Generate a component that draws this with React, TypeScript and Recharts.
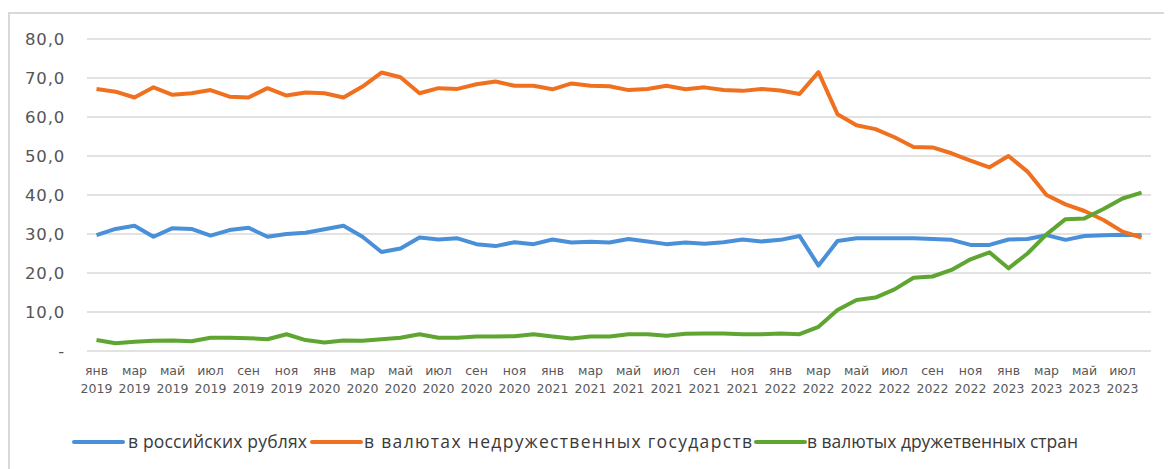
import React from "react";
import { LineChart, Line, XAxis, YAxis, CartesianGrid, Legend } from "recharts";

const monthNames = ["янв", "фев", "мар", "апр", "май", "июн", "июл", "авг", "сен", "окт", "ноя", "дек"];
const years = [2019, 2020, 2021, 2022, 2023];
const monthsIn2023 = 8;

const categories: string[] = [];
years.forEach((y) => {
  const n = y === 2023 ? monthsIn2023 : 12;
  for (let m = 0; m < n; m++) categories.push(`${monthNames[m]} ${y}`);
});

const rubles = [
  29.7, 31.3, 32.1, 29.3, 31.5, 31.3, 29.6, 31.0, 31.6, 29.3, 30.0, 30.3, 31.2, 32.1, 29.3, 25.4,
  26.3, 29.1, 28.6, 28.9, 27.4, 26.9, 27.9, 27.4, 28.6, 27.8, 28.0, 27.8, 28.7, 28.1, 27.4, 27.8, 27.5, 27.9, 28.6, 28.1,
  28.5, 29.5, 21.9, 28.2, 28.9, 28.9, 28.9, 28.9, 28.7, 28.5, 27.2, 27.2, 28.6, 28.7, 29.7, 28.5, 29.5, 29.7, 29.8, 29.7,
];
const unfriendly = [
  67.2, 66.5, 65.0, 67.6, 65.7, 66.1, 66.9, 65.2, 65.0, 67.4, 65.5, 66.3, 66.1, 65.0, 67.8, 71.4,
  70.2, 66.1, 67.4, 67.2, 68.4, 69.1, 68.0, 68.0, 67.1, 68.6, 68.0, 67.9, 66.9, 67.2, 68.0, 67.1, 67.6, 66.9, 66.7, 67.2,
  66.8, 65.9, 71.5, 60.7, 57.9, 56.9, 54.8, 52.3, 52.2, 50.7, 48.8, 47.1, 50.0, 46.0, 40.0, 37.6, 35.9, 33.6, 30.6, 29.1,
];
const friendly = [
  2.8, 2.0, 2.4, 2.6, 2.7, 2.5, 3.4, 3.4, 3.3, 3.0, 4.3, 2.8, 2.2, 2.7, 2.6, 3.0,
  3.4, 4.3, 3.4, 3.4, 3.7, 3.7, 3.8, 4.3, 3.7, 3.2, 3.7, 3.7, 4.3, 4.3, 3.9, 4.4, 4.5, 4.5, 4.3, 4.3,
  4.5, 4.3, 6.2, 10.5, 13.1, 13.7, 15.8, 18.8, 19.1, 20.8, 23.5, 25.3, 21.2, 25.0, 29.9, 33.8, 34.0, 36.4, 39.1, 40.6,
];
const yTicks = [0, 10, 20, 30, 40, 50, 60, 70, 80];

const seriesKeys = ["rub", "unf", "fr"];
const seriesNames = ["в российских рублях", "в валютах недружественных государств", "в валютых дружетвенных стран"];
const seriesColors = ["#4a90d9", "#ef7120", "#5fa532"];

const data = categories.map((c, i) => ({
  cat: c,
  rub: rubles[i],
  unf: unfriendly[i],
  fr: friendly[i],
}));

const XTick = (props: any) => {
  const { x, y, payload } = props;
  const [m, yr] = String(payload.value).split(" ");
  return (
    <g>
      <text x={x} y={y + 16} textAnchor="middle" fontSize={12.5} fill="#595959" fontFamily="DejaVu Sans">
        {m}
      </text>
      <text x={x} y={y + 34} textAnchor="middle" fontSize={12.5} fill="#595959" fontFamily="DejaVu Sans">
        {yr}
      </text>
    </g>
  );
};

const YTick = (props: any) => {
  const { y, payload } = props;
  const v = Number(payload.value);
  const label = v === 0 ? "-" : v.toFixed(1).replace(".", ",");
  return (
    <text x={57} y={y} dy="0.36em" textAnchor="end" fontSize={16.5} letterSpacing={0.8} fill="#555555" fontFamily="DejaVu Sans">
      {label}
    </text>
  );
};

const legendLayout: Record<string, { lx: number; tx: number; tw: number }> = {
  rub: { lx: 66, tx: 120, tw: 179 },
  unf: { lx: 304, tx: 356, tw: 388 },
  fr: { lx: 748, tx: 799, tw: 271 },
};

const LegendContent = (props: any) => {
  const payload = props.payload || [];
  return (
    <svg width={1164} height={30}>
      {payload.map((p: any, i: number) => {
        const L = legendLayout[p.dataKey] || legendLayout[seriesKeys[i]];
        return (
          <g key={p.dataKey || i}>
            <line x1={L.lx} x2={L.lx + 49} y1={15} y2={15} stroke={p.color} strokeWidth={4} strokeLinecap="round" />
            <text
              x={L.tx}
              y={21}
              fontSize={17.5}
              fill="#3a3a3a"
              fontFamily="Open Sans"
              textLength={L.tw}
              lengthAdjust="spacing"
            >
              {p.value}
            </text>
          </g>
        );
      })}
    </svg>
  );
};

export default function App() {
  return (
    <div style={{ position: "relative", width: 1164, height: 461, overflow: "hidden", background: "#fff" }}>
      <div
        style={{
          position: "absolute",
          left: 0,
          top: 4,
          width: 1300,
          height: 600,
          borderTop: "2px solid #d9d9d9",
          borderLeft: "2px solid #d9d9d9",
          boxSizing: "border-box",
        }}
      />
      <LineChart
        width={1164}
        height={461}
        data={data}
        margin={{ top: 31, right: 21, bottom: 58, left: 0 }}
        style={{ position: "absolute", left: 0, top: 0 }}
      >
        <CartesianGrid vertical={false} stroke="#d9d9d9" strokeWidth={1.5} />
        <XAxis
          dataKey="cat"
          interval={1}
          tick={<XTick />}
          tickLine={false}
          axisLine={false}
          padding={{ left: 9.5, right: 9.5 }}
          height={60}
        />
        <YAxis
          width={79}
          domain={[0, 80]}
          ticks={yTicks}
          tick={<YTick />}
          tickLine={false}
          axisLine={false}
          interval={0}
        />
        <Legend
          layout="horizontal"
          verticalAlign="middle"
          align="center"
          wrapperStyle={{ top: 419, left: 0, width: 1164, height: 30 }}
          content={<LegendContent />}
        />
        <Line type="linear" dataKey="rub" name={seriesNames[0]} stroke={seriesColors[0]} strokeWidth={4} dot={false} isAnimationActive={false} strokeLinejoin="round" />
        <Line type="linear" dataKey="unf" name={seriesNames[1]} stroke={seriesColors[1]} strokeWidth={4} dot={false} isAnimationActive={false} strokeLinejoin="round" />
        <Line type="linear" dataKey="fr" name={seriesNames[2]} stroke={seriesColors[2]} strokeWidth={4} dot={false} isAnimationActive={false} strokeLinejoin="round" />
      </LineChart>
    </div>
  );
}
